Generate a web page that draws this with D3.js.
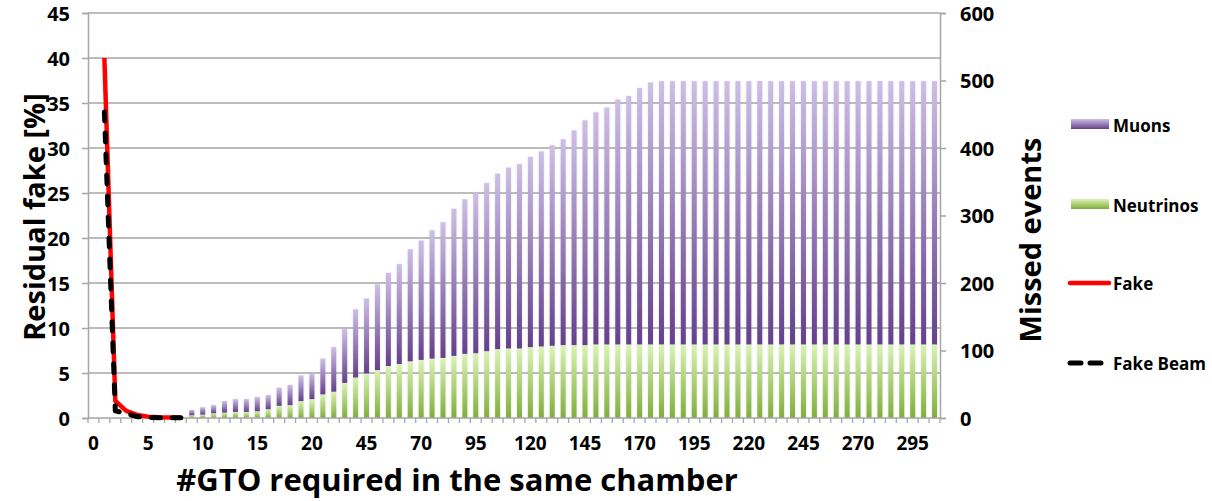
<!DOCTYPE html>
<html>
<head>
<meta charset="utf-8">
<script src="https://cdn.jsdelivr.net/npm/d3@7/dist/d3.min.js"></script>
<style>
  html, body { margin: 0; padding: 0; background: #fff; }
  svg { display: block; }
  text { font-family: "Open Sans", "Lato", sans-serif; font-weight: 700; fill: #000; }
</style>
</head>
<body>
<svg id="chart" width="1212" height="501"></svg>
<script>
// Category axis: 0..20 in steps of 1, then 25..305 in steps of 5
const categories = [
  0, 1, 2, 3, 4, 5, 6, 7, 8, 9, 10, 11, 12, 13, 14, 15, 16, 17, 18, 19, 20,
  25, 30, 35, 40, 45, 50, 55, 60, 65, 70, 75, 80, 85, 90, 95, 100, 105, 110, 115,
  120, 125, 130, 135, 140, 145, 150, 155, 160, 165, 170, 175, 180, 185, 190, 195,
  200, 205, 210, 215, 220, 225, 230, 235, 240, 245, 250, 255, 260, 265, 270, 275,
  280, 285, 290, 295, 300, 305
];

// Tick labels shown on the category axis (every fifth category)
const xTickLabels = ["0", "5", "10", "15", "20", "45", "70", "95", "120", "145",
  "170", "195", "220", "245", "270", "295"];
const leftTicks = [0, 5, 10, 15, 20, 25, 30, 35, 40, 45];
const rightTicks = [0, 100, 200, 300, 400, 500, 600];

// Residual fake [%] (left axis), categories 1..8
const fake = [null, 40, 1.9, 0.8, 0.35, 0.15, 0.08, 0.05, 0.05];
const fakeBeam = [null, 34, 0.8, 0.5, 0.15, 0.05, 0.03, 0.03, 0.03];

// Missed events (right axis), stacked: neutrinos at the bottom, muons on top
const neutrinos = [
  null, null, null, null, null, null, null, null, null,
  4, 5, 7, 8, 9, 9, 10, 13, 18, 19, 25, 28,
  35, 39, 52, 60, 66, 71, 77, 80, 84, 86, 88, 89, 92, 95, 96, 99, 102, 103, 103,
  105, 106, 107, 108, 108, 108, 109, 109, 109, 109, 109, 109, 109, 109, 109, 109,
  109, 109, 109, 109, 109, 109, 109, 109, 109, 109, 109, 109, 109, 109, 109, 109,
  109, 109, 109, 109, 109, 109
];
const muons = [
  null, null, null, null, null, null, null, null, null,
  8, 11, 12, 17, 19, 19, 21, 21, 27, 30, 38, 38,
  53, 66, 80, 101, 111, 127, 138, 148, 166, 177, 190, 201, 218, 229, 238, 249, 260, 268, 273,
  282, 289, 297, 305, 318, 333, 344, 351, 363, 368, 380, 388, 390, 390, 390, 390,
  390, 390, 390, 390, 390, 390, 390, 390, 390, 390, 390, 390, 390, 390, 390, 390,
  390, 390, 390, 390, 390, 390
];

const svg = d3.select("#chart");
const plot = { left: 88, right: 940, top: 13, bottom: 418 };

const x = d3.scaleBand()
  .domain(categories.map((d, i) => i))
  .range([plot.left, plot.right])
  .paddingInner(0).paddingOuter(0);
const yL = d3.scaleLinear().domain([0, 45]).range([plot.bottom, plot.top]);
const yR = d3.scaleLinear().domain([0, 600]).range([plot.bottom, plot.top]);

const defs = svg.append("defs");
function vGrad(id, top, bottom) {
  const g = defs.append("linearGradient").attr("id", id)
    .attr("x1", 0).attr("y1", 0).attr("x2", 0).attr("y2", 1);
  g.append("stop").attr("offset", "0%").attr("stop-color", top);
  g.append("stop").attr("offset", "100%").attr("stop-color", bottom);
}
vGrad("gMuons", "#cdbfe6", "#64408c");
vGrad("gNeutrinos", "#daf3b4", "#80ae3b");
const shadow = defs.append("filter").attr("id", "soft")
  .attr("x", "-60%").attr("y", "-5%").attr("width", "220%").attr("height", "110%");
shadow.append("feGaussianBlur").attr("in", "SourceAlpha").attr("stdDeviation", 1.2).attr("result", "b");
shadow.append("feFlood").attr("flood-color", "#000").attr("flood-opacity", 0.12);
shadow.append("feComposite").attr("in2", "b").attr("operator", "in").attr("result", "s");
const m = shadow.append("feMerge");
m.append("feMergeNode").attr("in", "s");
m.append("feMergeNode").attr("in", "SourceGraphic");

// Horizontal gridlines
svg.append("g").selectAll("line").data(leftTicks.slice(1)).join("line")
  .attr("x1", plot.left).attr("x2", plot.right)
  .attr("y1", d => yL(d)).attr("y2", d => yL(d))
  .attr("stroke", "#a6a6a6").attr("stroke-width", 1.5);

// Stacked bars
const barW = 5;
const bars = svg.append("g").attr("filter", "url(#soft)");
const idx = categories.map((d, i) => i).filter(i => neutrinos[i] != null);
bars.selectAll("rect.nu").data(idx).join("rect").attr("class", "nu")
  .attr("x", i => x(i) + (x.bandwidth() - barW) / 2)
  .attr("width", barW)
  .attr("y", i => yR(neutrinos[i]))
  .attr("height", i => yR(0) - yR(neutrinos[i]))
  .attr("fill", "url(#gNeutrinos)");
bars.selectAll("rect.mu").data(idx).join("rect").attr("class", "mu")
  .attr("x", i => x(i) + (x.bandwidth() - barW) / 2)
  .attr("width", barW)
  .attr("y", i => yR(neutrinos[i] + muons[i]))
  .attr("height", i => yR(neutrinos[i]) - yR(neutrinos[i] + muons[i]))
  .attr("fill", "url(#gMuons)");

// Category axis: tick marks at category boundaries
const bounds = d3.range(categories.length + 1);
svg.append("g").selectAll("line").data(bounds).join("line")
  .attr("x1", i => i < categories.length ? x(i) : plot.right)
  .attr("x2", i => i < categories.length ? x(i) : plot.right)
  .attr("y1", plot.bottom).attr("y2", plot.bottom + 5)
  .attr("stroke", "#a6a6a6").attr("stroke-width", 1.3);
svg.append("line").attr("x1", plot.left).attr("x2", plot.right)
  .attr("y1", plot.bottom).attr("y2", plot.bottom)
  .attr("stroke", "#a6a6a6").attr("stroke-width", 1.5);

const labelIdx = xTickLabels.map((t, k) => k * 5);
svg.append("g").selectAll("text").data(labelIdx).join("text")
  .attr("x", i => x(i) + x.bandwidth() / 2)
  .attr("y", 450)
  .attr("text-anchor", "middle")
  .attr("font-size", 19)
  .text((i, k) => xTickLabels[k]);

const leftAxis = d3.axisLeft(yL).tickValues(leftTicks).tickSize(6).tickPadding(12);
svg.append("g").attr("transform", `translate(${plot.left},0)`).call(leftAxis)
  .call(g => {
    g.select(".domain").attr("stroke", "#a6a6a6").attr("stroke-width", 1.5);
    g.selectAll(".tick line").attr("stroke", "#a6a6a6").attr("stroke-width", 1.5);
    g.selectAll(".tick text").attr("font-size", 20).attr("font-family", null)
      .attr("fill", "#000").attr("dy", "0.35em");
  });

const rightAxis = d3.axisRight(yR).tickValues(rightTicks).tickSize(6).tickPadding(14);
svg.append("g").attr("transform", `translate(${plot.right},0)`).call(rightAxis)
  .call(g => {
    g.select(".domain").attr("stroke", "#a6a6a6").attr("stroke-width", 1.5);
    g.selectAll(".tick line").attr("stroke", "#a6a6a6").attr("stroke-width", 1.5);
    g.selectAll(".tick text").attr("font-size", 20).attr("font-family", null)
      .attr("fill", "#000").attr("dy", "0.35em");
  });

// Lines on the left axis
const cx = i => x(i) + x.bandwidth() / 2;
const lineL = d3.line().defined(d => d.v != null).x(d => cx(d.i)).y(d => yL(d.v));
svg.append("path").datum(fake.map((v, i) => ({ i, v })))
  .attr("d", lineL).attr("fill", "none")
  .attr("stroke", "#ff0000").attr("stroke-width", 4.5).attr("stroke-linejoin", "round");
svg.append("path").datum(fakeBeam.map((v, i) => ({ i, v })))
  .attr("d", lineL).attr("fill", "none")
  .attr("stroke", "#000").attr("stroke-width", 5)
  .attr("stroke-dasharray", "9,12").attr("stroke-linecap", "round")
  .attr("stroke-linejoin", "round");

// Axis titles
svg.append("text")
  .attr("transform", "translate(45,217) rotate(-90)")
  .attr("text-anchor", "middle").attr("font-size", 29)
  .text("Residual fake [%]");
svg.append("text")
  .attr("transform", "translate(1041,240) rotate(-90)")
  .attr("text-anchor", "middle").attr("font-size", 29)
  .text("Missed events");
svg.append("text")
  .attr("x", 457).attr("y", 491)
  .attr("text-anchor", "middle").attr("font-size", 31)
  .text("#GTO required in the same chamber");

// Legend
const legend = svg.append("g");
const legendItems = [
  { name: "Muons", y: 127, kind: "bar", fill: "url(#gMuons)" },
  { name: "Neutrinos", y: 207, kind: "bar", fill: "url(#gNeutrinos)" },
  { name: "Fake", y: 285, kind: "line", stroke: "#ff0000" },
  { name: "Fake Beam", y: 365, kind: "dash", stroke: "#000" }
];
legendItems.forEach(it => {
  if (it.kind === "bar") {
    legend.append("rect").attr("x", 1071).attr("y", it.y - 8).attr("width", 38).attr("height", 10)
      .attr("fill", it.fill);
  } else if (it.kind === "line") {
    legend.append("line").attr("x1", 1070).attr("x2", 1109).attr("y1", it.y - 2).attr("y2", it.y - 2)
      .attr("stroke", it.stroke).attr("stroke-width", 4.5).attr("stroke-linecap", "round");
  } else {
    legend.append("line").attr("x1", 1070).attr("x2", 1109).attr("y1", it.y - 2).attr("y2", it.y - 2)
      .attr("stroke", it.stroke).attr("stroke-width", 5).attr("stroke-linecap", "round")
      .attr("stroke-dasharray", "11,9");
  }
  legend.append("text").attr("x", 1113).attr("y", it.y + 5).attr("font-size", 17).text(it.name);
});
</script>
</body>
</html>
